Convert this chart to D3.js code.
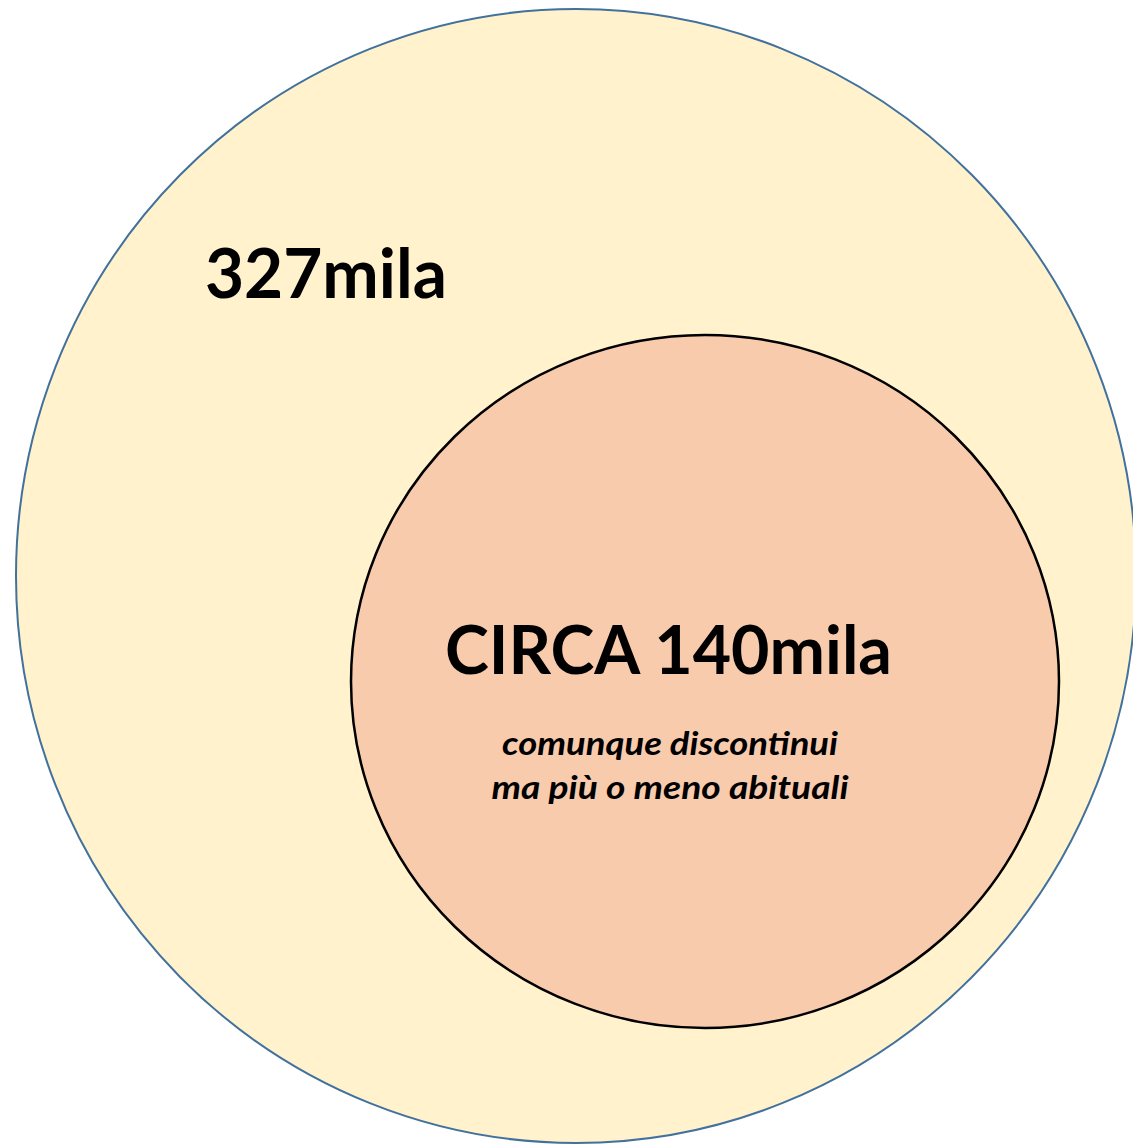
<!DOCTYPE html>
<html>
<head>
<meta charset="utf-8">
<script src="https://cdn.jsdelivr.net/npm/d3@7"></script>
<style>
  html, body { margin: 0; padding: 0; background: #ffffff; }
  svg { display: block; }
</style>
</head>
<body>
<div id="chart"></div>
<script>
// Data
const groups = ["totale", "abituali"];
const values = [327, 140];
const mainLabels = ["327mila", "CIRCA 140mila"];
const subLabels = [[], ["comunque discontinui", "ma più o meno abituali"]];

const W = 1133, H = 1144;
const svg = d3.select("#chart").append("svg")
  .attr("width", W).attr("height", H);

// scale from value to horizontal radius
const r = d3.scaleLinear().domain([140, 327]).range([354, 560]);

const shapes = [
  { cx: 576, cy: 576, aspect: 567 / 560, fill: "#FFF2CC", stroke: "#41719C", sw: 2 },
  { cx: 705, cy: 681.5, aspect: 346.5 / 354, fill: "#F8CBAD", stroke: "#000000", sw: 2.5 }
];

svg.selectAll("ellipse.set")
  .data(values)
  .join("ellipse")
  .attr("class", "set")
  .attr("cx", (d, i) => shapes[i].cx)
  .attr("cy", (d, i) => shapes[i].cy)
  .attr("rx", d => r(d))
  .attr("ry", (d, i) => r(d) * shapes[i].aspect)
  .attr("fill", (d, i) => shapes[i].fill)
  .attr("stroke", (d, i) => shapes[i].stroke)
  .attr("stroke-width", (d, i) => shapes[i].sw);

const font = "Lato, 'Open Sans', sans-serif";

// Outer label
svg.append("text")
  .attr("x", 205).attr("y", 298)
  .attr("font-family", font)
  .attr("font-weight", "bold")
  .attr("font-size", 68)
  .attr("fill", "#000")
  .attr("textLength", 242)
  .attr("lengthAdjust", "spacingAndGlyphs")
  .text(mainLabels[0]);

// Inner label
svg.append("text")
  .attr("x", 668.5).attr("y", 674)
  .attr("text-anchor", "middle")
  .attr("font-family", font)
  .attr("font-weight", "bold")
  .attr("font-size", 67)
  .attr("fill", "#000")
  .attr("textLength", 447)
  .attr("lengthAdjust", "spacingAndGlyphs")
  .text(mainLabels[1]);

const subWidths = [336, 357];
svg.selectAll("text.sub")
  .data(subLabels[1])
  .join("text")
  .attr("class", "sub")
  .attr("x", 670)
  .attr("y", (d, i) => 755 + i * 44)
  .attr("text-anchor", "middle")
  .attr("font-family", font)
  .attr("font-weight", "bold")
  .attr("font-style", "italic")
  .attr("font-size", 32)
  .attr("fill", "#000")
  .attr("textLength", (d, i) => subWidths[i])
  .attr("lengthAdjust", "spacingAndGlyphs")
  .text(d => d);
</script>
</body>
</html>
